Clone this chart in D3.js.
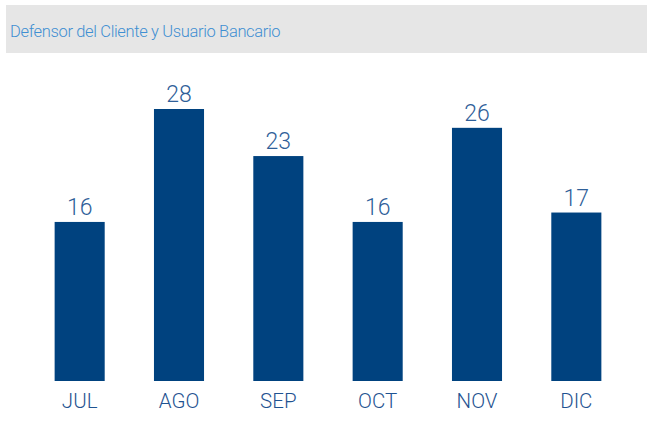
<!DOCTYPE html>
<meta charset="utf-8">
<script src="https://d3js.org/d3.v7.min.js"></script>
<style>
  body { margin: 0; background: #fff; }
</style>
<div id="chart"></div>
<script>

// data
var months = ["JUL", "AGO", "SEP", "OCT", "NOV", "DIC"];
var values = [16, 28, 23, 16, 26, 17];
var title = "Defensor del Cliente y Usuario Bancario";

var W = 647, H = 423;

var svg = d3.select("#chart")
  .append("svg")
    .attr("width", W)
    .attr("height", H);

// title band
svg.append("rect")
  .attr("x", 6).attr("y", 5)
  .attr("width", W - 6).attr("height", 48)
  .attr("fill", "#e6e6e6");

svg.append("text")
  .attr("x", 10).attr("y", 37)
  .attr("font-family", "Roboto")
  .attr("font-weight", 300)
  .attr("font-size", 16.5)
  .attr("letter-spacing", -0.35)
  .attr("fill", "#3f8fd2")
  .text(title);

// scales
var x = d3.scaleBand()
  .domain(months)
  .range([30, 626])
  .paddingInner(0.496)
  .paddingOuter(0.248);

var y = d3.scaleLinear()
  .domain([-0.9, 28])
  .range([381, 109]);

// bars
svg.selectAll("rect.bar")
  .data(values)
  .enter()
  .append("rect")
    .attr("class", "bar")
    .attr("x", function(d, i) { return x(months[i]); })
    .attr("y", function(d) { return y(d); })
    .attr("width", x.bandwidth())
    .attr("height", function(d) { return y(-0.9) - y(d); })
    .attr("fill", "#00427f");

// value labels
svg.selectAll("text.val")
  .data(values)
  .enter()
  .append("text")
    .attr("class", "val")
    .attr("x", function(d, i) { return x(months[i]) + x.bandwidth() / 2; })
    .attr("y", function(d) { return y(d) - 7; })
    .attr("text-anchor", "middle")
    .attr("font-family", "Roboto")
    .attr("font-weight", 300)
    .attr("font-size", 23)
    .attr("fill", "#2f6099")
    .text(function(d) { return d; });

// x axis
var xAxis = svg.append("g")
  .attr("transform", "translate(0,381)")
  .call(d3.axisBottom(x).tickSize(0).tickPadding(12));

xAxis.select(".domain").remove();
xAxis.selectAll("text")
  .attr("font-family", "Roboto")
  .attr("font-weight", 300)
  .attr("font-size", 20.5)
  .attr("fill", "#1f5391");

</script>
